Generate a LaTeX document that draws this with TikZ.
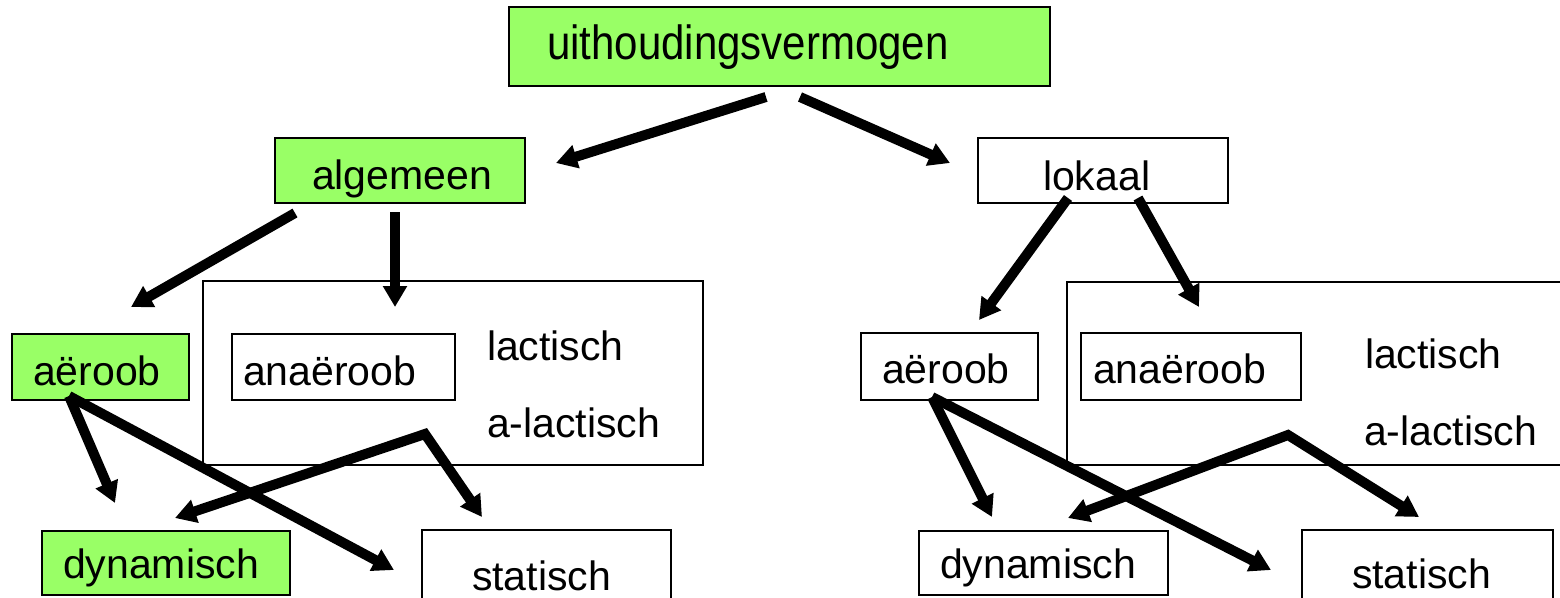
\documentclass[tikz,border=0pt]{standalone}
\usepackage{fontspec}
\setmainfont{Liberation Sans}
\newfontfamily\topfont{Liberation Sans}[FakeStretch=0.875]
\usetikzlibrary{arrows.meta}
\definecolor{boxgreen}{RGB}{153,255,102}
\begin{document}
\begin{tikzpicture}[x=1pt,y=-1pt,
  smallbox/.style={draw=black, line width=2.7pt, inner sep=0pt, outer sep=0pt, anchor=north west},
  bigbox/.style={draw=black, line width=2pt, inner sep=0pt, outer sep=0pt, anchor=north west},
  greenfill/.style={fill=boxgreen},
  txt/.style={inner sep=0pt, outer sep=0pt, anchor=base west, font=\fontsize{41}{49}\selectfont},
  arr/.style={line width=10pt, line join=miter, -{Triangle[length=21pt,width=23pt]}},
  darr/.style={line width=10pt, line join=miter, {Triangle[length=21pt,width=23pt]}-{Triangle[length=21pt,width=23pt]}}]
\useasboundingbox (0,0) rectangle (1560,597);
\clip (0,0) rectangle (1560,597);
\fill[white] (0,0) rectangle (1560,597);
% boxes
\node[smallbox, greenfill, minimum width=541pt, minimum height=79pt] (top) at (509,7) {};
\node[smallbox, greenfill, minimum width=250pt, minimum height=65pt] (alg) at (275,138) {};
\node[smallbox, minimum width=250pt, minimum height=65pt] (lok) at (978,138) {};
\node[bigbox, minimum width=500pt, minimum height=184pt] (groupL) at (203,281) {};
\node[bigbox, minimum width=520pt, minimum height=183pt] (groupR) at (1067,282) {};
\node[smallbox, greenfill, minimum width=177pt, minimum height=66pt] (aerL) at (12,334) {};
\node[smallbox, minimum width=223pt, minimum height=66pt] (anaL) at (232,334) {};
\node[smallbox, greenfill, minimum width=248pt, minimum height=64pt] (dynL) at (42,531) {};
\node[smallbox, minimum width=249pt, minimum height=90pt] (staL) at (422,530) {};
\node[smallbox, minimum width=177pt, minimum height=67pt] (aerR) at (861,333) {};
\node[smallbox, minimum width=220pt, minimum height=67pt] (anaR) at (1081,333) {};
\node[smallbox, minimum width=249pt, minimum height=64pt] (dynR) at (919,531) {};
\node[smallbox, minimum width=251pt, minimum height=90pt] (staR) at (1302,530) {};
% texts
\node[txt, font=\topfont\fontsize{48}{58}\selectfont] (tTop) at (547,59) {uithoudingsvermogen};
\node[txt] (tAlg) at (312,189) {algemeen};
\node[txt] (tLok) at (1043,190) {lokaal};
\node[txt] (tAerL) at (33,385) {aëroob};
\node[txt] (tAnaL) at (243,385) {anaëroob};
\node[txt] (tLacL) at (487,360) {lactisch};
\node[txt] (tAlacL) at (487,437) {a-lactisch};
\node[txt] (tDynL) at (63,578) {dynamisch};
\node[txt] (tStaL) at (472,590) {statisch};
\node[txt] (tAerR) at (882,383) {aëroob};
\node[txt] (tAnaR) at (1093,383) {anaëroob};
\node[txt] (tLacR) at (1365,368) {lactisch};
\node[txt] (tAlacR) at (1364,445) {a-lactisch};
\node[txt] (tDynR) at (940,578) {dynamisch};
\node[txt] (tStaR) at (1352,588) {statisch};
% connector end points
\coordinate (topL) at (766,97);
\coordinate (topR) at (800,97);
\coordinate (algIn) at (556,163);
\coordinate (lokIn) at (950,163);
\coordinate (algL) at (295,213);
\coordinate (algR) at (395,212);
\coordinate (aerLIn) at (131,307);
\coordinate (anaLIn) at (395,307);
\coordinate (aerLOut) at (69,396);
\coordinate (dynLIn) at (115,503);
\coordinate (staLIn) at (394,570);
\coordinate (jointL) at (425,434);
\coordinate (dynLIn2) at (175,518);
\coordinate (staLIn2) at (482,517);
\coordinate (lokL) at (1068,198);
\coordinate (lokR) at (1138,198);
\coordinate (aerRIn) at (979,320);
\coordinate (anaRIn) at (1199,307);
\coordinate (aerROut) at (932,397);
\coordinate (dynRIn) at (992,517);
\coordinate (staRIn) at (1271,570);
\coordinate (jointR) at (1288,435);
\coordinate (dynRIn2) at (1068,518);
\coordinate (staRIn2) at (1419,517);
% connectors
\draw[arr] (topL) -- (algIn);
\draw[arr] (topR) -- (lokIn);
\draw[arr] (algL) -- (aerLIn);
\draw[arr] (algR) -- (anaLIn);
\draw[arr] (aerLOut) -- (dynLIn);
\draw[arr] (aerLOut) -- (staLIn);
\draw[darr] (dynLIn2) -- (jointL) -- (staLIn2);
\draw[arr] (lokL) -- (aerRIn);
\draw[arr] (lokR) -- (anaRIn);
\draw[arr] (aerROut) -- (dynRIn);
\draw[arr] (aerROut) -- (staRIn);
\draw[darr] (dynRIn2) -- (jointR) -- (staRIn2);
\end{tikzpicture}
\end{document}
